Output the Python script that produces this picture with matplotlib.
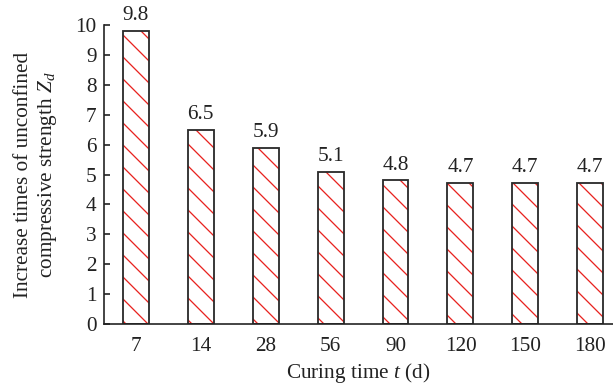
import matplotlib
matplotlib.use("Agg")
import matplotlib.pyplot as plt
import numpy as np

curing_days = ["7", "14", "28", "56", "90", "120", "150", "180"]
zd_values = [9.8, 6.5, 5.9, 5.1, 4.8, 4.7, 4.7, 4.7]
y_ticks = list(range(0, 11))

plt.rcParams["font.family"] = ["Liberation Serif", "DejaVu Serif"]
plt.rcParams["mathtext.fontset"] = "custom"
plt.rcParams["mathtext.rm"] = "Liberation Serif"
plt.rcParams["mathtext.it"] = "Liberation Serif:style=italic"
plt.rcParams["hatch.linewidth"] = 0.7

fs = 11.6
ink = "#222222"

dpi = 132
fig = plt.figure(figsize=(613 / dpi, 384 / dpi), dpi=dpi)
ax = fig.add_axes([104 / 613, 60 / 384, 509 / 613, 299 / 384])

x = np.arange(len(curing_days))
width = 0.4
# hatch layer in red, then outline on top
ax.bar(x, zd_values, width, facecolor="white", edgecolor="#e8231f",
       hatch="\\\\", linewidth=0)
ax.bar(x, zd_values, width, facecolor="none", edgecolor="#2b2b2b",
       linewidth=1.0)

for xi, v in zip(x, zd_values):
    ax.text(xi, v + 0.2, f"{v:.1f}", ha="center", va="bottom", fontsize=fs,
            color=ink)

ax.set_xlim(-0.49, 7.35)
ax.set_ylim(0, 10)
ax.set_xticks(x)
ax.set_xticklabels(curing_days)
ax.set_yticks(y_ticks)
ax.tick_params(axis="x", length=0, pad=7, labelsize=fs, colors=ink)
ax.tick_params(axis="y", direction="in", length=3, width=0.9, pad=4,
               labelsize=fs, colors=ink)
for side in ("top", "right"):
    ax.spines[side].set_visible(False)
for side in ("left", "bottom"):
    ax.spines[side].set_linewidth(0.9)
    ax.spines[side].set_color(ink)

ax.set_xlabel("Curing time $t$ (d)", fontsize=fs, color=ink, labelpad=3)
ax.set_ylabel("Increase times of unconfined\ncompressive strength $Z_d$",
              fontsize=fs, color=ink, labelpad=9, linespacing=1.2)

fig.savefig("out.png", dpi=dpi)
